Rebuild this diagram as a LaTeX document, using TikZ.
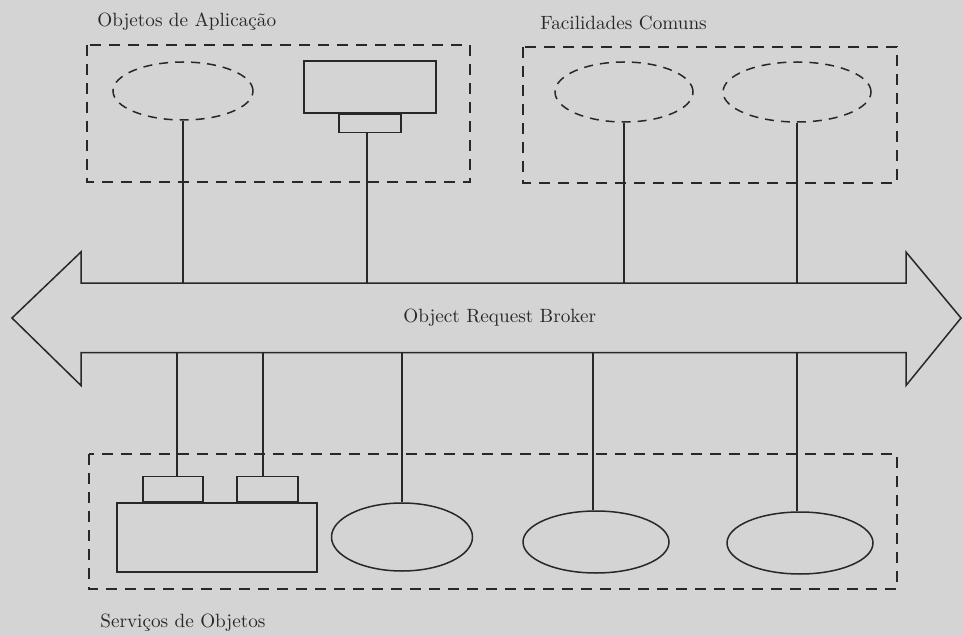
\documentclass[tikz,border=0pt]{standalone}
\usetikzlibrary{shapes.geometric}
\definecolor{paper}{RGB}{212,212,212}
\definecolor{ink}{RGB}{40,40,40}
\begin{document}
\begin{tikzpicture}[x=1pt,y=-1pt,
  ink/.style={draw=ink,line width=1.5pt},
  dashbox/.style={draw=ink,line width=1.6pt,dash pattern=on 11pt off 8pt},
  dashell/.style={ellipse,draw=ink,line width=1.5pt,dash pattern=on 9pt off 7pt,inner sep=0pt},
  solidell/.style={ellipse,ink,inner sep=0pt},
  solidbox/.style={rectangle,ink,inner sep=0pt},
  lbl/.style={anchor=west,inner sep=0pt,text=ink,scale=1.92,font=\fontsize{10}{12}\selectfont}]
\fill[paper] (0,0) rectangle (963,636);
\useasboundingbox (0,0) rectangle (963,636);
% groups
\draw[dashbox] (87,45) rectangle (470,182);
\draw[dashbox] (523,47) rectangle (897,183);
\draw[dashbox] (89,454) rectangle (897,589);
\node[lbl] (tapp) at (97,22) {Objetos de Aplicação};
\node[lbl] (tfac) at (540,23) {Facilidades Comuns};
\node[lbl] (tserv) at (100,623) {Serviços de Objetos};
% broker arrow
\coordinate (shafttop) at (0,283);
\coordinate (shaftbot) at (0,352.5);
\draw[ink,line join=miter] (12,318) -- (81,252) -- (81,283) -- (906,283) -- (906,252) -- (961,318)
  -- (906,385.5) -- (906,352.5) -- (81,352.5) -- (81,385.5) -- cycle;
\node[lbl] (orb) at (403,318) {Object Request Broker};
% application objects
\node[dashell,minimum width=140pt,minimum height=58pt] (a1) at (183,91) {};
\node[solidbox,minimum width=132pt,minimum height=52pt] (a2) at (370,87) {};
\node[solidbox,minimum width=62pt,minimum height=18pt,anchor=north] (a2s) at (a2.south) {};
% common facilities
\node[dashell,minimum width=138pt,minimum height=60pt] (f1) at (624,92) {};
\node[dashell,minimum width=148pt,minimum height=60pt] (f2) at (797,92) {};
% object services
\node[solidbox,minimum width=200pt,minimum height=69pt] (s0) at (217,537.5) {};
\node[solidbox,minimum width=60pt,minimum height=25pt,anchor=south] (s0a) at ([xshift=-44pt]s0.north) {};
\node[solidbox,minimum width=61pt,minimum height=25pt,anchor=south] (s0b) at ([xshift=50.5pt]s0.north) {};
\node[solidell,minimum width=141pt,minimum height=68pt] (s1) at (402,537) {};
\node[solidell,minimum width=146pt,minimum height=62pt] (s2) at (596,542) {};
\node[solidell,minimum width=146pt,minimum height=62pt] (s3) at (800,543) {};
% connectors
\draw[ink] (a1.south) -- (a1.south |- shafttop);
\draw[ink] ([xshift=-3pt]a2s.south) -- ([xshift=-3pt]a2s.south |- shafttop);
\draw[ink] (f1.south) -- (f1.south |- shafttop);
\draw[ink] (f2.south) -- (f2.south |- shafttop);
\draw[ink] ([xshift=4pt]s0a.north) -- ([xshift=4pt]s0a.north |- shaftbot);
\draw[ink] ([xshift=-4.5pt]s0b.north) -- ([xshift=-4.5pt]s0b.north |- shaftbot);
\draw[ink] (s1.north) -- (s1.north |- shaftbot);
\draw[ink] ([xshift=-3pt]s2.north) -- ([xshift=-3pt]s2.north |- shaftbot);
\draw[ink] ([xshift=-3pt]s3.north) -- ([xshift=-3pt]s3.north |- shaftbot);
\end{tikzpicture}
\end{document}
